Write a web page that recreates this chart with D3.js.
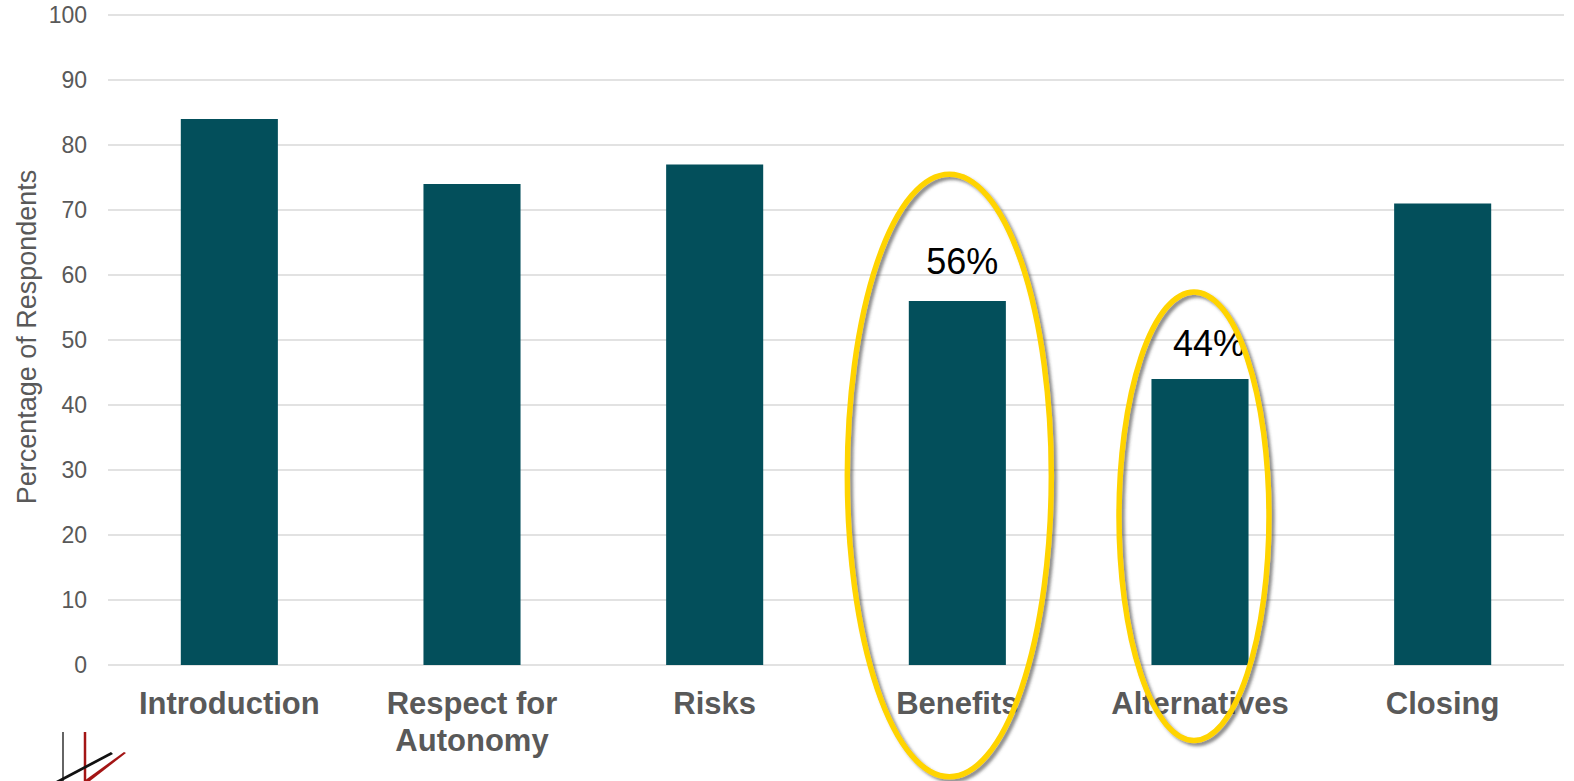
<!DOCTYPE html>
<html><head><meta charset="utf-8">
<script src="https://cdnjs.cloudflare.com/ajax/libs/d3/7.8.5/d3.min.js"></script>
<style>html,body{margin:0;padding:0;background:#fff;overflow:hidden}svg{display:block}</style>
</head><body>
<svg id="chart" width="1574" height="781"></svg>
<script>
const categories = ["Introduction", "Respect for|Autonomy", "Risks", "Benefits", "Alternatives", "Closing"];
const values = [84, 74, 77, 56, 44, 71];
const yTicks = [0, 10, 20, 30, 40, 50, 60, 70, 80, 90, 100];
const labelled = ["Benefits", "Alternatives"];
const labelTexts = ["56%", "44%"];
const yTitle = "Percentage of Respondents";

const svg = d3.select("#chart");
const mLeft = 108, mRight = 1564, mTop = 15, mBottom = 665;
const x = d3.scaleBand().domain(categories).range([mLeft, mRight]).paddingInner(0.6).paddingOuter(0.3);
const y = d3.scaleLinear().domain([0, 100]).range([mBottom, mTop]);

const defs = svg.append("defs");
const f = defs.append("filter").attr("id", "sh").attr("x", "-20%").attr("y", "-20%").attr("width", "140%").attr("height", "140%");
f.append("feDropShadow").attr("dx", 3).attr("dy", 3).attr("stdDeviation", 1.8).attr("flood-color", "#444").attr("flood-opacity", 0.6);

// grid
svg.append("g").selectAll("line").data(yTicks).join("line")
  .attr("x1", mLeft).attr("x2", mRight).attr("y1", d => y(d)).attr("y2", d => y(d))
  .attr("stroke", "#d9d9d9").attr("stroke-width", 1.5);

// y axis labels
const yAxis = svg.append("g").attr("transform", `translate(${mLeft},0)`)
  .call(d3.axisLeft(y).tickValues(yTicks).tickSize(0).tickPadding(21));
yAxis.select(".domain").remove();
yAxis.selectAll("text").attr("font-family", "Liberation Sans, Arial, sans-serif").attr("font-size", 23).attr("fill", "#595959");

svg.append("text").attr("transform", `translate(36,337) rotate(-90)`).attr("text-anchor", "middle")
  .attr("font-family", "Liberation Sans, Arial, sans-serif").attr("font-size", 27).attr("fill", "#595959").text(yTitle);

// bars
svg.append("g").selectAll("rect").data(categories).join("rect")
  .attr("x", d => x(d)).attr("width", x.bandwidth())
  .attr("y", (d, i) => y(values[i])).attr("height", (d, i) => y(0) - y(values[i]))
  .attr("fill", "#034f5b");

// x labels
const xl = svg.append("g").selectAll("text").data(categories).join("text")
  .attr("text-anchor", "middle").attr("font-family", "Liberation Sans, Arial, sans-serif")
  .attr("font-weight", "bold").attr("font-size", 31).attr("fill", "#595959")
  .attr("x", d => x(d) + x.bandwidth() / 2).attr("y", 714);
xl.each(function(d) {
  const parts = d.split("|");
  d3.select(this).selectAll("tspan").data(parts).join("tspan")
    .attr("x", x(d) + x.bandwidth() / 2).attr("dy", (p, i) => i === 0 ? 0 : 37).text(p => p);
});

// value labels
const labelShift = [{dx: 5, dy: -27}, {dx: 9, dy: -23}];
labelled.forEach((c, k) => {
  const i = categories.indexOf(c);
  svg.append("text").attr("x", x(c) + x.bandwidth() / 2 + labelShift[k].dx).attr("y", y(values[i]) + labelShift[k].dy)
    .attr("text-anchor", "middle").attr("font-family", "Liberation Sans, Arial, sans-serif")
    .attr("font-size", 36).attr("fill", "#000").text(labelTexts[k]);
});

// highlight ellipses (annotation)
const ellipses = [
  {cat: "Benefits", dx: -8, topV: 75.5, botV: -17.2, rx: 102},
  {cat: "Alternatives", dx: -6, topV: 57.4, botV: -11.6, rx: 75}
];
svg.append("g").selectAll("ellipse").data(ellipses).join("ellipse")
  .attr("cx", d => x(d.cat) + x.bandwidth() / 2 + d.dx)
  .attr("cy", d => (y(d.topV) + y(d.botV)) / 2)
  .attr("rx", d => d.rx)
  .attr("ry", d => (y(d.botV) - y(d.topV)) / 2)
  .attr("fill", "none").attr("stroke", "#ffd400").attr("stroke-width", 5.5)
  .attr("filter", "url(#sh)");

// logo
const logo = svg.append("g");
logo.append("line").attr("x1", 63).attr("y1", 732).attr("x2", 63).attr("y2", 781).attr("stroke", "#111").attr("stroke-width", 1.3);
logo.append("line").attr("x1", 85).attr("y1", 732).attr("x2", 85).attr("y2", 781).attr("stroke", "#a31515").attr("stroke-width", 2.5);
logo.append("path").attr("d", "M56,781 L111,752 L113,754 L62,781 Z").attr("fill", "#111");
logo.append("path").attr("d", "M84,781 L124,752 L126,753 L90,781 Z").attr("fill", "#a31515");
</script>
</body></html>
